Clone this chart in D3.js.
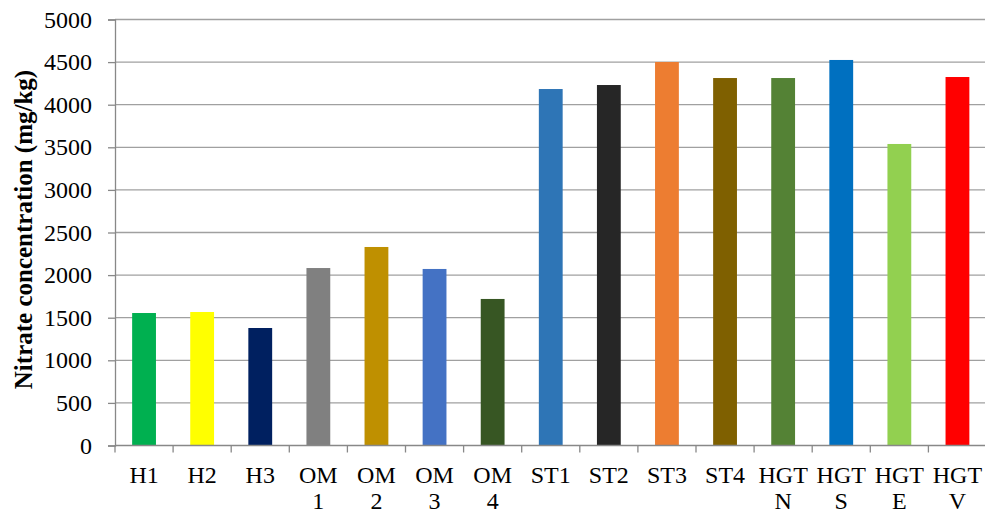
<!DOCTYPE html>
<html><head><meta charset="utf-8">
<script src="https://cdn.jsdelivr.net/npm/d3@7"></script>
<style>body{margin:0;background:#fff;}svg{display:block;font-family:"Liberation Serif","Times New Roman",serif;}</style>
</head><body><svg id="c" width="985" height="514"></svg>
<script>
const categories = [["H1"],["H2"],["H3"],["OM","1"],["OM","2"],["OM","3"],["OM","4"],["ST1"],["ST2"],["ST3"],["ST4"],["HGT","N"],["HGT","S"],["HGT","E"],["HGT","V"]];
const values = [1555,1567,1379,2083,2330,2072,1720,4184,4231,4501,4313,4313,4525,3539,4325];
const colors = ["#00B050","#FFFF00","#002060","#808080","#BF9000","#4472C4","#375623","#2E75B6","#262626","#ED7D31","#7F6000","#548235","#0070C0","#92D050","#FF0000"];
const yTicks = [0,500,1000,1500,2000,2500,3000,3500,4000,4500,5000];
const yLabel = "Nitrate concentration (mg/kg)";

const svg = d3.select("#c");
const L = 115, R = 986.5, T = 19.5, B = 445.5;
const keys = categories.map(d => d.join(" "));
const x = d3.scaleBand().domain(keys).range([L, R]).paddingInner(0.59).paddingOuter(0.295);
const y = d3.scaleLinear().domain([0, 5000]).range([B, T]);

// gridlines
svg.append("g").selectAll("line").data(yTicks.filter(d => d > 0)).join("line")
  .attr("x1", L).attr("x2", R).attr("y1", d => y(d)).attr("y2", d => y(d))
  .attr("stroke", "#a0a0a0").attr("stroke-width", 1.3);

// bars
svg.append("g").selectAll("rect").data(values).join("rect")
  .attr("x", (d, i) => x(keys[i])).attr("width", x.bandwidth())
  .attr("y", d => y(d)).attr("height", d => B - y(d))
  .attr("fill", (d, i) => colors[i]);

// y axis
const ya = svg.append("g").attr("transform", `translate(${L},0)`)
  .call(d3.axisLeft(y).tickValues(yTicks).tickSize(7).tickPadding(16).tickFormat(d3.format("d")));
ya.select(".domain").attr("stroke", "#888").attr("stroke-width", 1.3);
ya.selectAll(".tick line").attr("stroke", "#888").attr("stroke-width", 1.3);
ya.selectAll("text").attr("font-size", 24).attr("font-family", "Liberation Serif").attr("fill", "#000");

// x axis
const step = x.step();
const xa = svg.append("g").attr("transform", `translate(0,${B})`);
xa.append("line").attr("x1", L).attr("x2", R).attr("stroke", "#888").attr("stroke-width", 1.3);
xa.selectAll("line.tk").data(d3.range(keys.length + 1)).join("line").attr("class", "tk")
  .attr("x1", i => L + i * step).attr("x2", i => L + i * step).attr("y1", 0).attr("y2", 7)
  .attr("stroke", "#888").attr("stroke-width", 1.3);
const lab = xa.selectAll("text").data(categories).join("text")
  .attr("x", (d, i) => x(keys[i]) + x.bandwidth() / 2)
  .attr("text-anchor", "middle").attr("font-size", 24).attr("fill", "#000");
lab.selectAll("tspan").data(d => d).join("tspan")
  .attr("x", function () { return this.parentNode.getAttribute("x"); })
  .attr("y", (d, j) => 37 + j * 26.5).text(d => d);

// y label
svg.append("text").attr("transform", `translate(32,229.5) rotate(-90)`)
  .attr("text-anchor", "middle").attr("font-weight", "bold").attr("font-size", 25)
  .text(yLabel);
</script></body></html>
